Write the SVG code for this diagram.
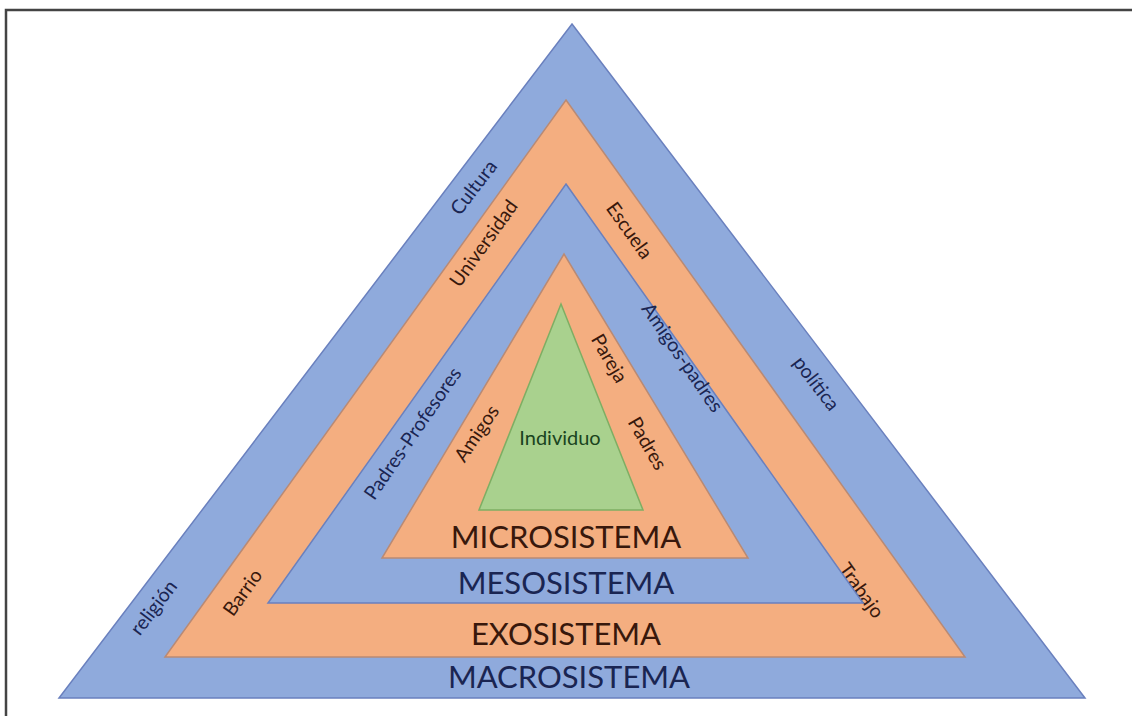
<svg xmlns="http://www.w3.org/2000/svg" width="1132" height="719" viewBox="0 0 1132 719">
<style>
.blue{fill:#8FAADC;stroke:#6A80BE;stroke-width:1.5}
.orange{fill:#F4AE80;stroke:#B98A74;stroke-width:1.5}
.green{fill:#A9D18E;stroke:#7EAE63;stroke-width:1.5}
text{font-family:Lato,"Liberation Sans",sans-serif;text-anchor:middle;dominant-baseline:central}
.tb{fill:#1A2552}
.to{fill:#38180C}
.tg{fill:#1A4420}
.s{font-size:19.5px}
.big{font-size:31px}
</style>
<rect x="0" y="0" width="1132" height="719" fill="#fff"/>
<path d="M6,716 V10 H1132" fill="none" stroke="#444" stroke-width="2.5"/>
<g id="macrosistema">
<polygon class="blue" points="572,24 1085,698 59,698"/>
<text class="tb s" transform="translate(473,187) rotate(-52.7)">Cultura</text>
<text class="tb s" transform="translate(153,607) rotate(-52.7)">religión</text>
<text class="tb s" transform="translate(817,383) rotate(52.7)">política</text>
<text class="tb big" x="569" y="676">MACROSISTEMA</text>
</g>
<g id="exosistema">
<polygon class="orange" points="566,100 965,657 165,657"/>
<text class="to s" transform="translate(483,243) rotate(-54.3)">Universidad</text>
<text class="to s" transform="translate(242,592) rotate(-54.3)">Barrio</text>
<text class="to s" transform="translate(630,230) rotate(54.3)">Escuela</text>
<text class="to s" transform="translate(862,590) rotate(54.3)">Trabajo</text>
<text class="to big" x="566" y="633">EXOSISTEMA</text>
</g>
<g id="mesosistema">
<polygon class="blue" points="566,184 863,603 268,603"/>
<text class="tb s" transform="translate(412,433) rotate(-55.5)">Padres-Profesores</text>
<text class="tb s" transform="translate(683,357) rotate(55.5)">Amigos-padres</text>
<text class="tb big" x="566" y="582">MESOSISTEMA</text>
</g>
<g id="microsistema">
<polygon class="orange" points="564,254 748,558 382,558"/>
<text class="to s" transform="translate(476,433) rotate(-56)">Amigos</text>
<text class="to s" transform="translate(610,358) rotate(60)">Pareja</text>
<text class="to s" transform="translate(648,443) rotate(60)">Padres</text>
<text class="to big" x="566" y="536">MICROSISTEMA</text>
</g>
<g id="individuo">
<polygon class="green" points="561,304 643,510 479,510"/>
<text class="tg" x="560" y="437" font-size="20">Individuo</text>
</g>
<g id="connectors"></g>
</svg>
